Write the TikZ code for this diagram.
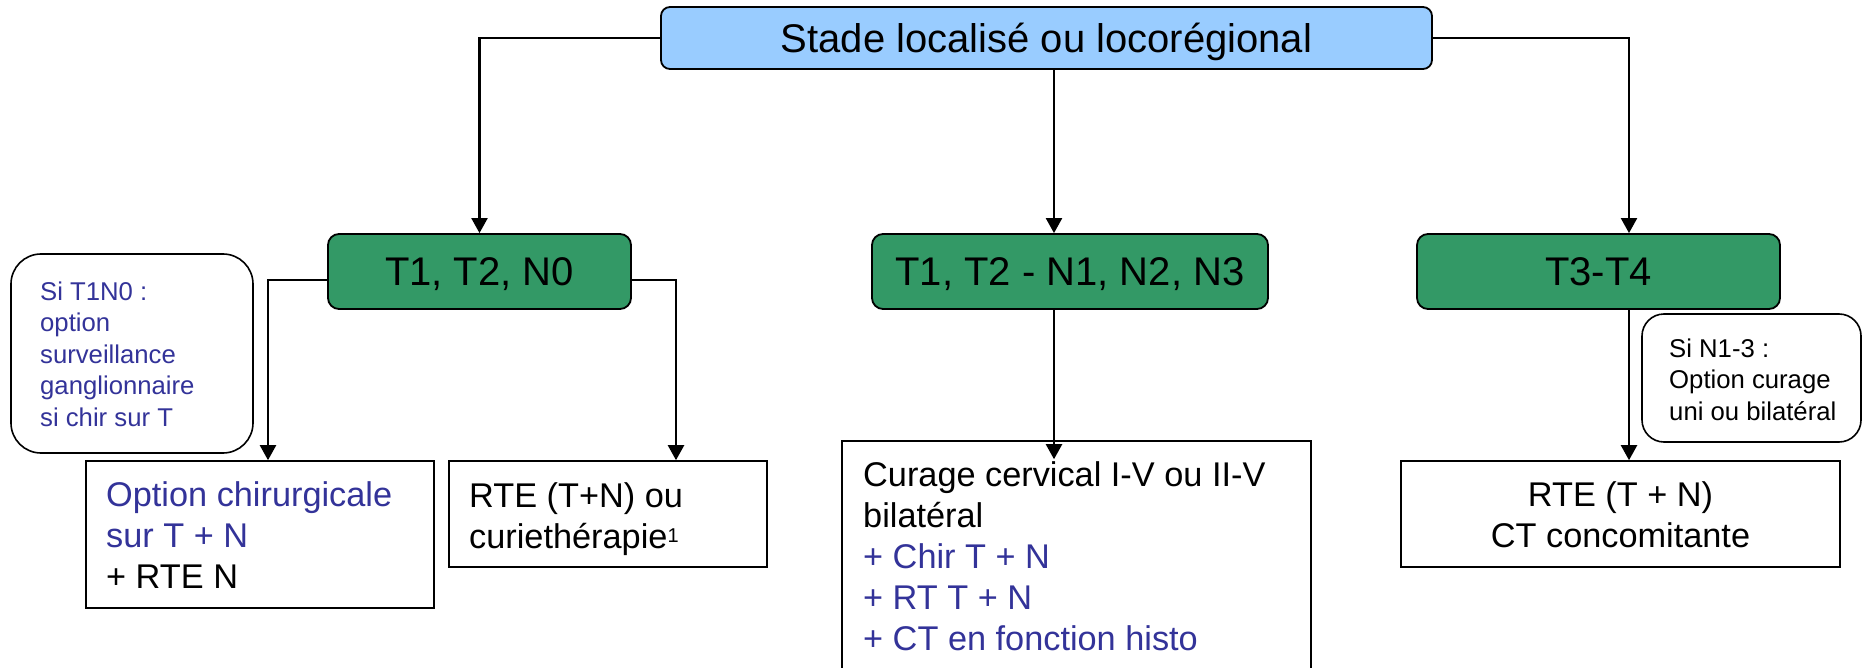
\documentclass[tikz,border=0pt]{standalone}
\usepackage{fontspec}
\setmainfont{Liberation Sans}
\usetikzlibrary{arrows.meta}
\definecolor{headblue}{HTML}{99CCFF}
\definecolor{stagegreen}{HTML}{339966}
\definecolor{optblue}{HTML}{333399}
% strut fixing the top of the first line of a text block
\newcommand{\firstln}{\rule{0pt}{0.8em}}
% small raised footnote mark
\newcommand{\fnmark}[1]{\raisebox{5.5pt}{\fontsize{20}{20}\selectfont #1}}

\begin{document}
\begin{tikzpicture}[x=1pt,y=-1pt,
  conn/.style={line width=2.2pt,-{Triangle[width=16pt,length=15pt]}},
  headbox/.style={draw,line width=1.8pt,fill=headblue,rounded corners=9pt,inner sep=0pt,
    font=\fontsize{40}{48}\selectfont,text height=28.6pt,text depth=0pt},
  stagebox/.style={draw,line width=1.8pt,fill=stagegreen,rounded corners=11pt,inner sep=0pt,
    font=\fontsize{40}{48}\selectfont,text height=28.6pt,text depth=0pt,minimum height=75pt},
  treatbox/.style={draw,line width=1.6pt,fill=white,inner sep=0pt},
  notebox/.style={draw,line width=1.6pt,fill=white,inner sep=0pt},
  bigtext/.style={inner sep=0pt,anchor=north west,align=left,font=\fontsize{34.3}{41}\selectfont},
  smalltext/.style={inner sep=0pt,anchor=north west,align=left,font=\fontsize{25.7}{31.6}\selectfont},
]
\useasboundingbox (0,0) rectangle (1863,668);
\clip (0,0) rectangle (1863,668);
\fill[white] (0,0) rectangle (1863,668);

% header
\node[headbox,minimum width=771pt,minimum height=62pt] (top) at (1046.5,38) {Stade localisé ou locorégional};

% stages
\node[stagebox,minimum width=303pt] (g1) at (479.5,271.5) {T1, T2, N0};
\node[stagebox,minimum width=396pt] (g2) at (1070,271.5) {T1, T2 - N1, N2, N3};
\node[stagebox,minimum width=363pt] (g3) at (1598.5,271.5) {T3-T4};

% side notes
\node[notebox,rounded corners=30pt,minimum width=242pt,minimum height=199pt] (n1) at (132,353.5) {};
\node[smalltext,text=optblue] (n1t) at (40,279.4) {\firstln Si T1N0 :\\option\\surveillance\\ganglionnaire\\si chir sur T};
\node[notebox,rounded corners=22pt,minimum width=219pt,minimum height=128pt] (n2) at (1751.5,378) {};
\node[smalltext] (n2t) at (1669,336.4) {\firstln Si N1-3 :\\Option curage\\uni ou bilatéral};

% treatments
\node[treatbox,minimum width=348pt,minimum height=147pt] (opt) at (260,534.5) {};
\node[bigtext] (optt) at (106,478.6) {\firstln\textcolor{optblue}{Option chirurgicale}\\\textcolor{optblue}{sur T + N}\\+ RTE N};

\node[treatbox,minimum width=318pt,minimum height=106pt] (rte1) at (608,514) {};
\node[bigtext] (rte1t) at (469,479.6) {\firstln RTE (T+N) ou\\curiethérapie\fnmark{1}};

\node[treatbox,minimum width=469pt,minimum height=258pt] (cur) at (1076.5,570) {};
\node[bigtext] (curt) at (863,458.6) {\firstln Curage cervical I-V ou II-V\\bilatéral\\\textcolor{optblue}{+ Chir T + N}\\\textcolor{optblue}{+ RT T + N}\\\textcolor{optblue}{+ CT en fonction histo}};

\node[treatbox,minimum width=439pt,minimum height=106pt] (rte2) at (1620.5,514) {};
\node[bigtext,anchor=north,align=center] (rte2t) at (1620.5,478.6) {\firstln RTE (T + N)\\CT concomitante};

% connectors
\draw[conn] (top.west) -| (g1.north);
\draw[conn] ([xshift=7.5pt]top.south) -- ([xshift=-16pt]g2.north);
\draw[conn] (top.east) -| ([xshift=30.5pt]g3.north);
\draw[conn] ([yshift=-8.5pt]g1.west) -| ([xshift=8pt]opt.north);
\draw[conn] ([yshift=-8.5pt]g1.east) -| ([xshift=68pt]rte1.north);
\draw[conn] ([xshift=-16pt]g2.south) -- ([xshift=-22.5pt,yshift=-19pt]cur.north);
\draw[conn] ([xshift=30.5pt]g3.south) -- ([xshift=8.5pt]rte2.north);
\end{tikzpicture}
\end{document}
